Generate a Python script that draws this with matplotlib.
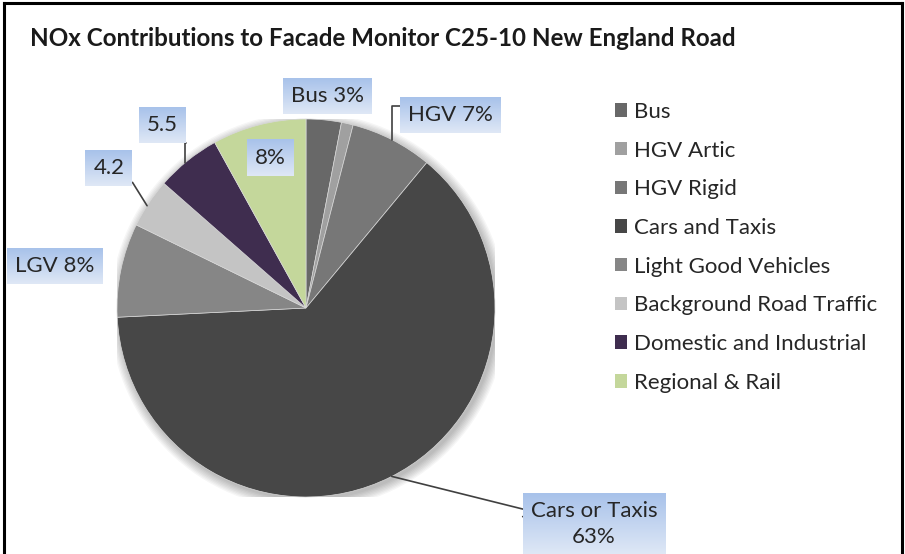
import numpy as np
import matplotlib
matplotlib.use("Agg")
import matplotlib.pyplot as plt
from matplotlib.patches import Patch, Circle
from matplotlib.lines import Line2D
from matplotlib.colors import LinearSegmentedColormap

categories = ["Bus", "HGV Artic", "HGV Rigid", "Cars and Taxis",
              "Light Good Vehicles", "Background Road Traffic",
              "Domestic and Industrial", "Regional & Rail"]
shares = [3.0, 1.0, 7.0, 63.0, 8.0, 4.2, 5.5, 8.0]
slice_labels = ["Bus 3%", "", "HGV 7%", "Cars or Taxis\n63%", "LGV 8%", "4.2", "5.5", "8%"]
colors = ["#686868", "#a0a0a0", "#777777", "#474747",
          "#868686", "#c4c4c4", "#3f2d4f", "#c4d79b"]

plt.rcParams["font.family"] = ["Lato", "DejaVu Sans"]

W, H = 905, 554
fig = plt.figure(figsize=(W / 100, H / 100), dpi=100)
cx, cy, r = 306, 308, 189          # pie centre / radius in pixels
ax = fig.add_axes([(cx - r) / W, (H - cy - r) / H, 2 * r / W, 2 * r / H])


def px(x, y):
    # pixel position (from top-left) -> pie data coords
    return (x - cx) / r, (cy - y) / r


# soft shadow like the spreadsheet export
for k in range(8):
    ax.add_patch(Circle((0.012, -0.016), 1.0 + k * 0.007, color="black",
                        alpha=0.035, lw=0, zorder=0))

wedges, _ = ax.pie(shares, colors=colors, startangle=90, counterclock=False,
                   radius=1, wedgeprops=dict(linewidth=0.5, edgecolor="#d8d8d8", zorder=1))

# label centres (pixels), leader styles and where the leader leaves the box
label_pos = [(327, 96), None, (450, 115), (594, 524), (55, 266), (109, 168), (162, 125), (270, 158)]
leader = [None, None, "angle,angleA=0,angleB=90,rad=0", "angle,angleA=0,angleB=-14,rad=0",
          None, "arc3", "angle,angleA=0,angleB=90,rad=0", None]
relpos = [None, None, (0, 0.75), (0, 0.62), None, (1, 0.1), (1, 0), None]

cum = np.cumsum([0] + shares[:-1])
texts = []
for i, lab in enumerate(slice_labels):
    if not lab or label_pos[i] is None:
        continue
    tx, ty = px(*label_pos[i])
    t = ax.text(tx, ty, lab, ha="center", va="center", fontsize=16, linespacing=1.35,
                color="#262626", zorder=6, clip_on=False)
    texts.append((i, t))

ax.set_xlim(-1, 1)
ax.set_ylim(-1, 1)
ax.set_aspect("equal")

# gradient label boxes sized around the rendered text
fig.canvas.draw()
renderer = fig.canvas.get_renderer()
grad = np.linspace(0, 1, 64)[:, None]
box_cmap = LinearSegmentedColormap.from_list("labbox", ["#a8c2ea", "#dfe8f6"])
inv = ax.transData.inverted()
pad_x, pad_y = 8, 8
for i, t in texts:
    bb = t.get_window_extent(renderer)
    (x0, y0) = inv.transform((bb.x0 - pad_x, bb.y0 - pad_y))
    (x1, y1) = inv.transform((bb.x1 + pad_x, bb.y1 + pad_y))
    ax.imshow(grad, extent=[x0, x1, y0, y1], cmap=box_cmap, aspect="auto",
              interpolation="bilinear", zorder=5, clip_on=False)
    if leader[i]:
        mid = np.deg2rad(90 - (cum[i] + shares[i] / 2) / 100 * 360)
        tip = (np.cos(mid), np.sin(mid))
        rx, ry = relpos[i]
        start = (x0 + rx * (x1 - x0), y0 + ry * (y1 - y0))
        ax.annotate("", xy=tip, xytext=start, annotation_clip=False, zorder=4,
                    arrowprops=dict(arrowstyle="-", color="#404040", lw=1.2,
                                    connectionstyle=leader[i], shrinkA=0, shrinkB=0))

ax.set_xlim(-1, 1)
ax.set_ylim(-1, 1)
ax.set_aspect("equal")

fig.text(30 / W, 1 - 38 / H, "NOx Contributions to Facade Monitor C25-10 New England Road",
         fontsize=17.4, fontweight="bold", color="#1a1a1a", va="center", ha="left")

handles = [Patch(facecolor=c, edgecolor="none") for c in colors]
fig.legend(handles, categories, loc="upper left", bbox_to_anchor=(615 / W, 1 - 102 / H),
           frameon=False, fontsize=16, handlelength=0.55, handleheight=0.55,
           handletextpad=0.3, labelspacing=0.84, borderaxespad=0, borderpad=0,
           labelcolor="#262626")

# outer frame (bottom edge is cropped in the original)
for xs, ys in [([4 / W, 4 / W], [0, 1 - 3 / H]), ([4 / W, 902 / W], [1 - 3 / H, 1 - 3 / H]),
               ([902 / W, 902 / W], [1 - 3 / H, 0])]:
    fig.add_artist(Line2D(xs, ys, color="black", lw=2.2))

fig.savefig("out.png", dpi=100)
